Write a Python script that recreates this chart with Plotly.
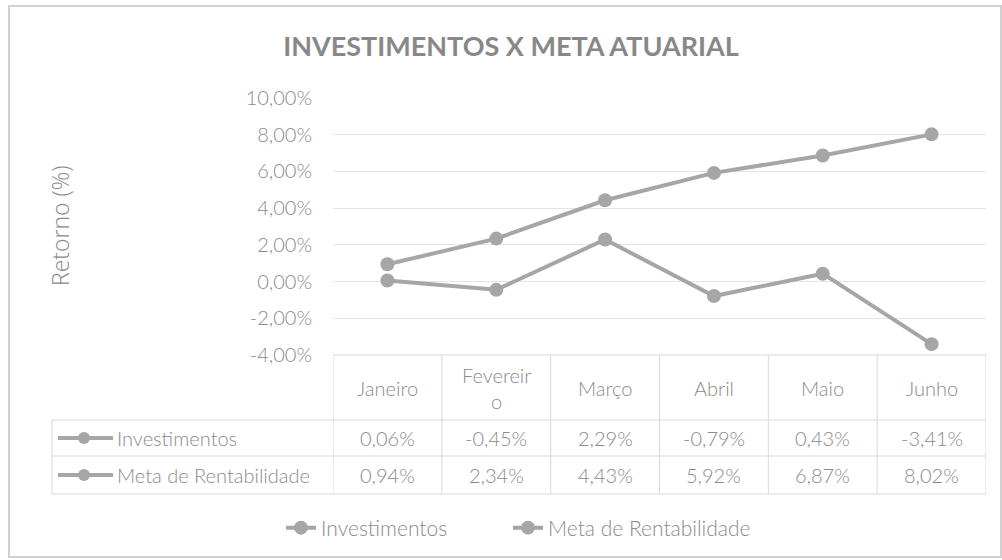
import plotly.graph_objects as go

# ---- data ----
months = ["Janeiro", "Fevereiro", "Março", "Abril", "Maio", "Junho"]
investimentos = [0.06, -0.45, 2.29, -0.79, 0.43, -3.41]
meta = [0.94, 2.34, 4.43, 5.92, 6.87, 8.02]
series_names = ["Investimentos", "Meta de Rentabilidade"]
y_ticks = [-4, -2, 0, 2, 4, 6, 8, 10]

# ---- layout constants (pixels) ----
W, H = 1002, 560
PL, PR, PT, PB = 333, 986, 98, 355
TXT = "#8a8a8a"
LINE = "#a6a6a6"
GRID = "#e4e4e4"
TBL = "#d9d9d9"
FONT = "Lato, sans-serif"
FS = 20
WT = 300


def fx(xp):
    return (xp - PL) / (PR - PL)


def fy(yp):
    return (PB - yp) / (PB - PT)


def fmt(v):
    return f"{v:.2f}".replace(".", ",") + "%"


def wrap(label, n=8):
    return label if len(label) <= n else label[:n] + "<br>" + label[n:]


def tfont(size=FS):
    return dict(family=FONT, size=size, color=TXT, weight=WT)


xs = list(range(len(months)))
legend_ids = ["legend", "legend2"]
fig = go.Figure()
for name, vals, lg in zip(series_names, [investimentos, meta], legend_ids):
    fig.add_trace(go.Scatter(
        x=xs, y=vals, name=name, mode="lines+markers",
        line=dict(color=LINE, width=4),
        marker=dict(color=LINE, size=14, symbol="circle"),
        cliponaxis=False, legend=lg,
    ))

shapes = []
annotations = []

# outer frame
shapes.append(dict(type="rect", xref="paper", yref="paper",
                   x0=fx(9), x1=fx(1001), y0=fy(557), y1=fy(6),
                   line=dict(color="#d0d0d0", width=2), layer="below"))

# table horizontal lines
row_lines = [355, 420, 456, 494]
shapes.append(dict(type="line", xref="x", yref="paper", x0=-0.5, x1=len(months) - 0.5,
                   y0=fy(row_lines[0]), y1=fy(row_lines[0]), line=dict(color=TBL, width=1)))
for yy in row_lines[1:]:
    shapes.append(dict(type="line", xref="paper", yref="paper", x0=fx(52), x1=fx(PR),
                       y0=fy(yy), y1=fy(yy), line=dict(color=TBL, width=1)))
# vertical lines
for i in range(len(months) + 1):
    shapes.append(dict(type="line", xref="x", yref="paper", x0=i - 0.5, x1=i - 0.5,
                       y0=fy(row_lines[0]), y1=fy(row_lines[-1]), line=dict(color=TBL, width=1)))
shapes.append(dict(type="line", xref="paper", yref="paper", x0=fx(52), x1=fx(52),
                   y0=fy(row_lines[1]), y1=fy(row_lines[-1]), line=dict(color=TBL, width=1)))

# header cells
for i, m in enumerate(months):
    annotations.append(dict(x=i, y=fy(388), xref="x", yref="paper", text=wrap(m),
                            xanchor="center", yanchor="middle",
                            showarrow=False, font=tfont()))

# data rows
row_centers = [438, 475]
for name, vals, yc in zip(series_names, [investimentos, meta], row_centers):
    shapes.append(dict(type="line", xref="paper", yref="paper", x0=fx(58), x1=fx(113),
                       y0=fy(yc), y1=fy(yc), line=dict(color=LINE, width=4)))
    shapes.append(dict(type="circle", xref="paper", yref="paper",
                       xsizemode="pixel", ysizemode="pixel",
                       xanchor=fx(84), yanchor=fy(yc), x0=-6, x1=6, y0=-6, y1=6,
                       fillcolor=LINE, line=dict(color=LINE, width=0)))
    annotations.append(dict(x=fx(115), y=fy(yc), xref="paper", yref="paper", text=name,
                            xanchor="left", yanchor="middle", showarrow=False,
                            font=tfont()))
    for i, v in enumerate(vals):
        annotations.append(dict(x=i, y=fy(yc), xref="x", yref="paper", text=fmt(v),
                                xanchor="center", yanchor="middle",
                                showarrow=False, font=tfont()))

# y axis title
annotations.append(dict(x=fx(60), y=fy(226), xref="paper", yref="paper", text="Retorno (%)",
                        textangle=-90, xanchor="center", yanchor="middle", showarrow=False,
                        font=dict(family="Open Sans, sans-serif", size=23, color=TXT, weight=300)))

leg_common = dict(orientation="h", xanchor="left", y=fy(528), yanchor="middle",
                  font=tfont(21), itemwidth=30, bgcolor="rgba(0,0,0,0)")

fig.update_layout(
    width=W, height=H,
    margin=dict(l=PL, r=W - PR, t=PT, b=H - PB, pad=0),
    paper_bgcolor="white", plot_bgcolor="white",
    title=dict(text="<b>INVESTIMENTOS X META ATUARIAL</b>", x=fx(511), xanchor="center",
               xref="paper", y=1 - 47 / H, yanchor="middle",
               font=dict(family=FONT, size=27, color="#888888")),
    xaxis=dict(range=[-0.5, len(months) - 0.5], showticklabels=False, showgrid=False,
               zeroline=False, showline=False, ticks=""),
    yaxis=dict(range=[-4, 10], tickvals=y_ticks, ticktext=[fmt(v) for v in y_ticks],
               showgrid=True, gridcolor=GRID, gridwidth=1, zeroline=False, showline=False,
               ticks="", ticklabelstandoff=20,
               tickfont=tfont()),
    legend=dict(x=fx(281), **leg_common),
    legend2=dict(x=fx(508), **leg_common),
    shapes=shapes, annotations=annotations,
    showlegend=True,
)

fig.write_html("out.html", config={"displayModeBar": False},
               post_script="document.body.style.margin='0px';")
